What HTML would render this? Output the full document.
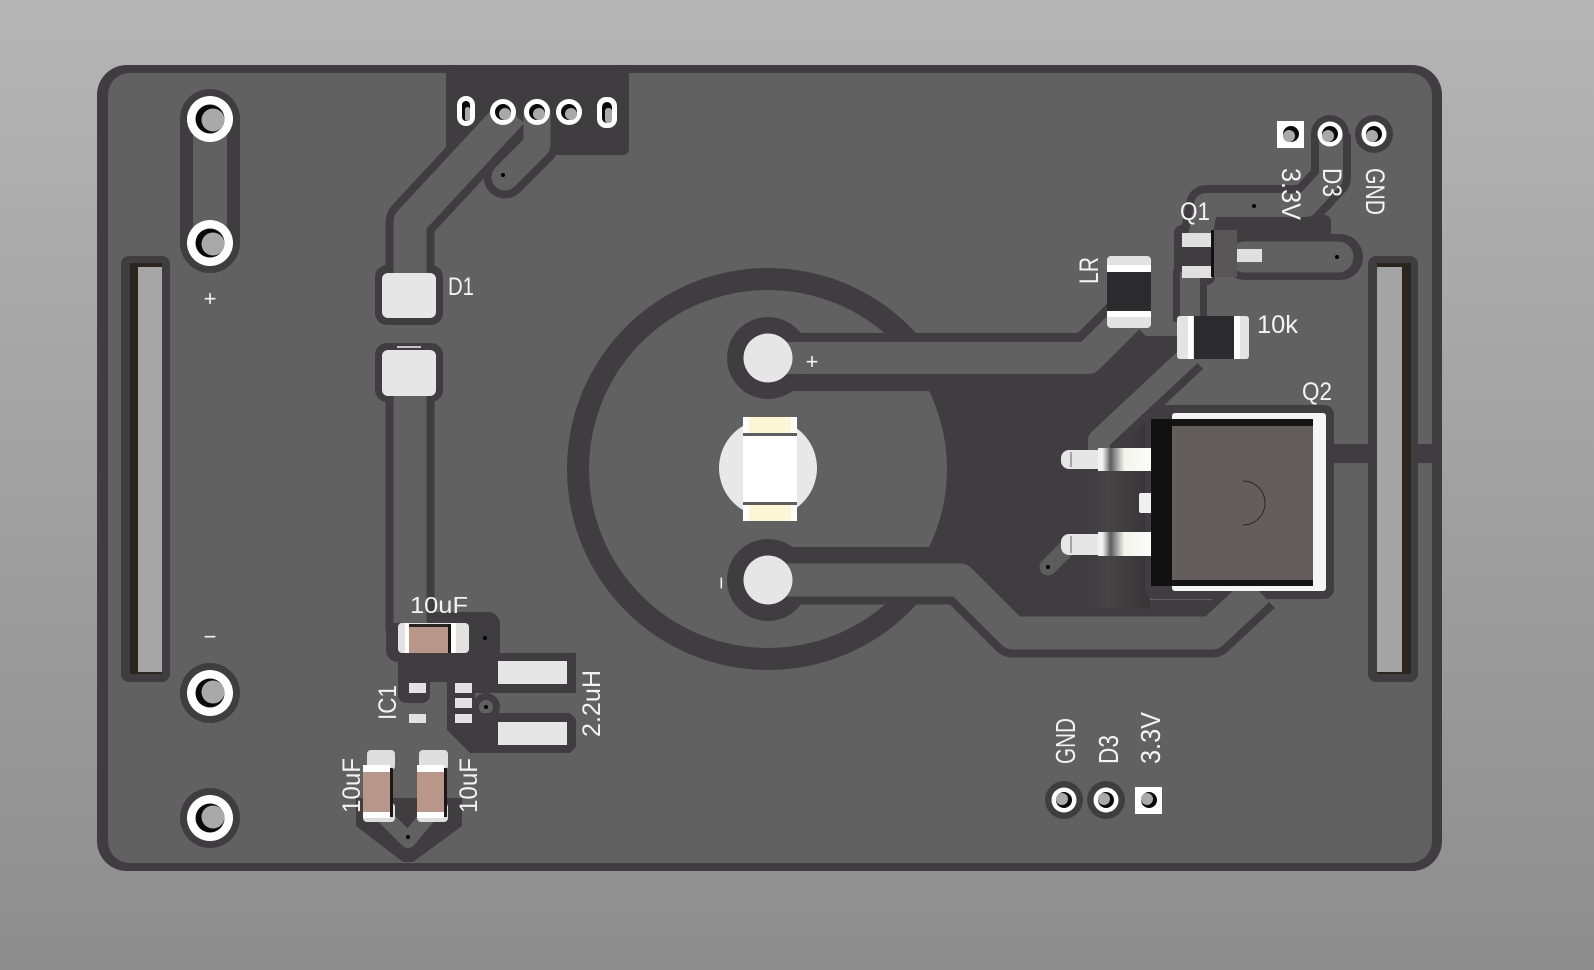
<!DOCTYPE html>
<html><head><meta charset="utf-8">
<style>
html,body{margin:0;padding:0;width:1594px;height:970px;overflow:hidden;background:#a0a0a0}
svg{display:block}
text{font-family:"Liberation Sans","DejaVu Sans",sans-serif;fill:#f3f3f3}
</style></head><body>
<svg width="1594" height="970" viewBox="0 0 1594 970" xmlns="http://www.w3.org/2000/svg">
<defs>
<linearGradient id="bg" x1="0" y1="0" x2="0" y2="1">
<stop offset="0" stop-color="#b5b5b5"/><stop offset="1" stop-color="#8d8d8d"/>
</linearGradient>
<linearGradient id="lead" x1="1061" y1="0" x2="1160" y2="0" gradientUnits="userSpaceOnUse">
<stop offset="0" stop-color="#e4e4e4"/><stop offset="0.42" stop-color="#f2f2f2"/>
<stop offset="0.5" stop-color="#5c5c5c"/><stop offset="0.64" stop-color="#f4f4ee"/>
<stop offset="1" stop-color="#ffffff"/>
</linearGradient>
<linearGradient id="shade" x1="1080" y1="0" x2="1150" y2="0" gradientUnits="userSpaceOnUse">
<stop offset="0" stop-color="#3f3d3f" stop-opacity="0"/><stop offset="0.4" stop-color="#464445"/><stop offset="1" stop-color="#363435"/>
</linearGradient>
</defs>

<rect width="1594" height="970" fill="url(#bg)"/>

<!-- board -->
<rect x="97" y="65" width="1345" height="806" rx="30" fill="#3f3d3f"/>
<rect x="108" y="73" width="1324" height="790" rx="22" fill="#616161"/>

<!-- top connector dark area -->
<rect x="446" y="65" width="183" height="90" rx="6" fill="#3f3d3f"/>

<!-- left pill between holes -->
<line x1="210" y1="119" x2="210" y2="243" stroke="#3f3d3f" stroke-width="60" stroke-linecap="round"/>
<line x1="210" y1="119" x2="210" y2="243" stroke="#616161" stroke-width="34"/>
<circle cx="210" cy="693" r="30" fill="#3f3d3f"/>
<circle cx="210" cy="818" r="30" fill="#3f3d3f"/>

<!-- trace outlines near D1 -->
<polyline points="512,112 410,222 410,280" fill="none" stroke="#3f3d3f" stroke-width="49" stroke-linejoin="round"/>
<polyline points="537,112 537,145 505,177" fill="none" stroke="#3f3d3f" stroke-width="43" stroke-linejoin="round" stroke-linecap="round"/>
<rect x="375" y="265" width="68" height="60" rx="12" fill="#3f3d3f"/>
<rect x="375" y="343" width="68" height="59" rx="12" fill="#3f3d3f"/>
<line x1="410" y1="396" x2="410" y2="630" stroke="#3f3d3f" stroke-width="49"/>

<!-- IC1 area clearances -->
<rect x="386" y="612" width="114" height="50" rx="12" fill="#3f3d3f"/>
<circle cx="485" cy="638" r="15" fill="#3f3d3f"/>
<rect x="398" y="650" width="32" height="53" rx="8" fill="#3f3d3f"/>
<polygon points="428,653 576,653 576,693 447,693 447,682 428,682" fill="#3f3d3f"/>
<rect x="473" y="653" width="103" height="40" rx="8" fill="#3f3d3f"/>
<rect x="447" y="678" width="28" height="50" rx="6" fill="#3f3d3f"/>
<circle cx="486" cy="707" r="14" fill="#3f3d3f"/>
<circle cx="486" cy="707" r="7" fill="#616161"/>
<polygon points="447,713 570,713 576,719 576,747 570,753 470,753 447,730" fill="#3f3d3f"/>
<polygon points="356,798 462,798 462,826 413,862 403,862 356,826" fill="#3f3d3f"/>
<polyline points="378,810 408,840 433,810" fill="none" stroke="#616161" stroke-width="16" stroke-linejoin="round"/>

<!-- big ring and dark region -->
<circle cx="768" cy="469" r="201" fill="#3f3d3f"/>
<polygon points="900,374 1090,374 1128,336 1180,336 1196,356 1150,408 1145,408 1145,600 1215,600 1215,617 1020,617 967,563 900,563" fill="#3f3d3f"/>
<rect x="1080" y="420" width="70" height="195" fill="url(#shade)"/>
<circle cx="768" cy="469" r="179" fill="#616161"/>
<rect x="775" y="374" width="162" height="17" fill="#3f3d3f"/>
<rect x="775" y="547" width="162" height="17" fill="#3f3d3f"/>

<!-- +/- track outlines -->
<polyline points="768,358 1088,358 1128,318" fill="none" stroke="#3f3d3f" stroke-width="50" stroke-linejoin="round"/>
<circle cx="768" cy="358" r="41" fill="#3f3d3f"/>
<polyline points="768,580 960,580 1013,633 1212,633 1258,590" fill="none" stroke="#3f3d3f" stroke-width="49" stroke-linejoin="round"/>
<circle cx="768" cy="580" r="41" fill="#3f3d3f"/>

<!-- gate track outline -->
<polyline points="1190,355 1099,440 1099,462" fill="none" stroke="#3f3d3f" stroke-width="38" stroke-linejoin="round"/>

<!-- Q1 / header clearances -->
<rect x="1174" y="225" width="41" height="60" rx="8" fill="#3f3d3f"/>
<polyline points="1331,134 1331,178 1306,205 1206,205 1200,238" fill="none" stroke="#3f3d3f" stroke-width="40" stroke-linejoin="round"/>
<rect x="1213" y="215" width="118" height="30" rx="6" fill="#3f3d3f"/>
<line x1="1245" y1="257" x2="1340" y2="257" stroke="#3f3d3f" stroke-width="46" stroke-linecap="round"/>
<line x1="1190" y1="270" x2="1190" y2="322" stroke="#3f3d3f" stroke-width="34"/>
<circle cx="1330" cy="134" r="19" fill="#3f3d3f"/>
<circle cx="1374" cy="134" r="19" fill="#3f3d3f"/>

<!-- bottom header clearances -->
<circle cx="1064" cy="800" r="19" fill="#3f3d3f"/>
<circle cx="1106" cy="800" r="19" fill="#3f3d3f"/>

<!-- right side dark band & Q2 clearance -->
<rect x="1330" y="444" width="104" height="19" fill="#3f3d3f"/>
<rect x="1145" y="405" width="189" height="194" rx="10" fill="#3f3d3f"/>

<!-- light tracks -->
<polyline points="512,112 410,222 410,300" fill="none" stroke="#616161" stroke-width="33" stroke-linejoin="round"/>
<polyline points="537,112 537,145 505,177" fill="none" stroke="#616161" stroke-width="27" stroke-linejoin="round" stroke-linecap="round"/>
<line x1="410" y1="396" x2="410" y2="623" stroke="#616161" stroke-width="33"/>
<polyline points="768,358 1088,358 1128,318" fill="none" stroke="#616161" stroke-width="32" stroke-linejoin="round"/>
<polyline points="768,580 960,580 1013,633 1212,633 1258,590" fill="none" stroke="#616161" stroke-width="33" stroke-linejoin="round"/>
<polyline points="1190,355 1099,440 1099,462" fill="none" stroke="#616161" stroke-width="22" stroke-linejoin="round"/>
<polyline points="1331,134 1331,178 1306,205 1206,205 1200,238" fill="none" stroke="#616161" stroke-width="24" stroke-linejoin="round"/>
<line x1="1245" y1="257" x2="1338" y2="257" stroke="#616161" stroke-width="31" stroke-linecap="round"/>
<line x1="1190" y1="272" x2="1190" y2="320" stroke="#616161" stroke-width="20"/>
<line x1="1048" y1="567" x2="1070" y2="545" stroke="#5d5c5d" stroke-width="17" stroke-linecap="round"/>

<!-- vias -->
<g fill="#000">
<circle cx="503" cy="175" r="2"/><circle cx="1254" cy="206" r="2"/><circle cx="1337" cy="257" r="2"/>
<circle cx="485" cy="638" r="2"/><circle cx="486" cy="707" r="2"/><circle cx="408" cy="837" r="2"/>
<circle cx="1048" cy="567" r="2"/>
</g>

<!-- big holes -->
<g>
<circle cx="210" cy="119" r="23" fill="#fff"/><circle cx="210" cy="119" r="14.5" fill="#0a0a0a"/><circle cx="213" cy="120" r="11.5" fill="#a9a9a9"/>
<circle cx="210" cy="243" r="23" fill="#fff"/><circle cx="210" cy="243" r="14.5" fill="#0a0a0a"/><circle cx="213" cy="244" r="11.5" fill="#a9a9a9"/>
<circle cx="210" cy="693" r="23" fill="#fff"/><circle cx="210" cy="693" r="14.5" fill="#0a0a0a"/><circle cx="213" cy="692" r="11.5" fill="#a9a9a9"/>
<circle cx="210" cy="818" r="23" fill="#fff"/><circle cx="210" cy="818" r="14.5" fill="#0a0a0a"/><circle cx="213" cy="817" r="11.5" fill="#a9a9a9"/>
</g>

<!-- top connector pads -->
<rect x="457" y="96" width="18" height="30" rx="9" fill="#fff"/>
<rect x="462" y="101" width="8" height="20" rx="4" fill="#0a0a0a"/>
<rect x="465" y="107" width="5" height="14" rx="2.5" fill="#a9a9a9"/>
<rect x="597" y="97" width="20" height="31" rx="9" fill="#fff"/>
<rect x="602" y="102" width="10" height="21" rx="5" fill="#0a0a0a"/>
<rect x="605" y="108" width="7" height="15" rx="3" fill="#a9a9a9"/>
<circle cx="503" cy="112" r="13" fill="#fff"/><circle cx="503" cy="112" r="8" fill="#0a0a0a"/><circle cx="505" cy="114" r="6" fill="#a9a9a9"/>
<circle cx="537" cy="112" r="13" fill="#fff"/><circle cx="537" cy="112" r="8" fill="#0a0a0a"/><circle cx="539" cy="114" r="6" fill="#a9a9a9"/>
<circle cx="569" cy="112" r="13" fill="#fff"/><circle cx="569" cy="112" r="8" fill="#0a0a0a"/><circle cx="571" cy="114" r="6" fill="#a9a9a9"/>

<!-- D1 -->
<rect x="382" y="273" width="54" height="45" rx="6" fill="#e6e6e6"/>
<rect x="382" y="350" width="54" height="46" rx="6" fill="#e6e6e6"/>
<line x1="397" y1="347" x2="421" y2="347" stroke="#f2f2f2" stroke-width="1.5"/>

<!-- LED center -->
<circle cx="768" cy="468" r="49" fill="#e8e8e8"/>
<rect x="743" y="417" width="54" height="104" fill="#fdf6d4"/>
<rect x="743" y="417" width="6" height="17" fill="#fff"/><rect x="791" y="417" width="6" height="17" fill="#fff"/>
<rect x="743" y="504" width="6" height="17" fill="#fff"/><rect x="791" y="504" width="6" height="17" fill="#fff"/>
<rect x="743" y="433" width="54" height="3" fill="#5d5d5d"/>
<rect x="743" y="436" width="54" height="66" fill="#ffffff"/>
<rect x="743" y="502" width="54" height="3" fill="#5d5d5d"/>

<!-- +/- pads -->
<circle cx="768" cy="358" r="24.5" fill="#e6e6e6"/>
<circle cx="768" cy="580" r="24.5" fill="#e6e6e6"/>

<!-- Q2 -->
<rect x="1061" y="450" width="50" height="19" rx="8" fill="#e6e6e6"/>
<rect x="1098" y="448" width="62" height="23" fill="url(#lead)"/>
<line x1="1071" y1="452" x2="1071" y2="467" stroke="#777" stroke-width="1.2"/>
<rect x="1061" y="534" width="50" height="21" rx="8" fill="#e6e6e6"/>
<rect x="1098" y="532" width="62" height="24" fill="url(#lead)"/>
<line x1="1071" y1="536" x2="1071" y2="553" stroke="#777" stroke-width="1.2"/>
<rect x="1139" y="493" width="21" height="20" rx="2" fill="#f0f0f0"/>
<rect x="1172" y="413" width="154" height="178" rx="3" fill="#f5f5f5"/>
<rect x="1151" y="419" width="21" height="167" fill="#111"/>
<rect x="1172" y="419" width="141" height="7" fill="#141414"/>
<rect x="1172" y="580" width="141" height="6" fill="#141414"/>
<rect x="1172" y="426" width="141" height="154" fill="#635e5b"/>
<path d="M1243,481 A22,22 0 0 1 1243,525" fill="none" stroke="#2a2828" stroke-width="1"/>

<!-- 10k -->
<rect x="1177" y="316" width="72" height="43" rx="3" fill="#e4e4e4"/>
<rect x="1188" y="316" width="5" height="43" fill="#ffffff"/>
<rect x="1194" y="316" width="40" height="43" fill="#2b2b2d"/>
<rect x="1234" y="316" width="6" height="43" fill="#ffffff"/>

<!-- LR -->
<rect x="1107" y="256" width="44" height="72" rx="4" fill="#e2e2e2"/>
<rect x="1107" y="265" width="44" height="7" fill="#ffffff"/>
<rect x="1107" y="272" width="44" height="39" fill="#2b2b2d"/>
<rect x="1107" y="311" width="44" height="6" fill="#ffffff"/>

<!-- Q1 -->
<rect x="1182" y="233" width="30" height="14" fill="#e0e0e0"/>
<rect x="1182" y="266" width="30" height="12" fill="#e0e0e0"/>
<rect x="1237" y="249" width="25" height="13" fill="#e0e0e0"/>
<rect x="1211" y="230" width="26" height="47" fill="#5a5556"/>
<rect x="1211" y="230" width="3" height="47" fill="#111"/>

<!-- top header pads -->
<rect x="1277" y="121" width="27" height="27" fill="#fff"/>
<circle cx="1291" cy="134" r="8" fill="#0a0a0a"/><circle cx="1289" cy="136" r="6" fill="#a9a9a9"/>
<circle cx="1330" cy="134" r="12.5" fill="#fff"/><circle cx="1330" cy="134" r="8" fill="#0a0a0a"/><circle cx="1328" cy="136" r="6" fill="#a9a9a9"/>
<circle cx="1374" cy="134" r="12.5" fill="#fff"/><circle cx="1374" cy="134" r="8" fill="#0a0a0a"/><circle cx="1372" cy="136" r="6" fill="#a9a9a9"/>

<!-- bottom header pads -->
<circle cx="1064" cy="800" r="12.5" fill="#fff"/><circle cx="1064" cy="800" r="8" fill="#0a0a0a"/><circle cx="1062" cy="799" r="6" fill="#a9a9a9"/>
<circle cx="1106" cy="800" r="12.5" fill="#fff"/><circle cx="1106" cy="800" r="8" fill="#0a0a0a"/><circle cx="1104" cy="799" r="6" fill="#a9a9a9"/>
<rect x="1135" y="787" width="27" height="27" fill="#fff"/>
<circle cx="1149" cy="800" r="8" fill="#0a0a0a"/><circle cx="1147" cy="799" r="6" fill="#a9a9a9"/>

<!-- top 10uF cap -->
<rect x="398" y="623" width="71" height="30" rx="4" fill="#e2e2e2"/>
<rect x="405" y="623" width="4" height="30" fill="#ffffff"/>
<rect x="409" y="624" width="39" height="29" fill="#b8978a"/>
<rect x="409" y="624" width="39" height="3" fill="#2a2220"/>
<rect x="448" y="624" width="3" height="29" fill="#1c1816"/>
<rect x="451" y="623" width="5" height="30" fill="#ffffff"/>

<!-- IC1 pads -->
<g fill="#e2e2e2">
<rect x="409" y="683" width="17" height="10"/><rect x="409" y="714" width="17" height="9"/>
<rect x="455" y="683" width="17" height="10"/><rect x="455" y="698" width="17" height="10"/><rect x="455" y="714" width="17" height="9"/>
</g>
<!-- inductor pads -->
<rect x="498" y="661" width="69" height="23" fill="#e6e6e6"/>
<rect x="498" y="722" width="69" height="23" fill="#e6e6e6"/>

<!-- bottom caps -->
<rect x="367" y="750" width="28" height="20" rx="4" fill="#dedede"/>
<rect x="363" y="803" width="32" height="19" rx="4" fill="#dedede"/>
<rect x="363" y="765" width="27" height="7" fill="#ffffff"/>
<rect x="363" y="772" width="27" height="40" fill="#b8978a"/>
<rect x="363" y="812" width="27" height="6" fill="#ffffff"/>
<rect x="390" y="768" width="3" height="49" fill="#1c1816"/>
<rect x="419" y="750" width="29" height="20" rx="4" fill="#dedede"/>
<rect x="417" y="803" width="31" height="19" rx="4" fill="#dedede"/>
<rect x="417" y="765" width="27" height="7" fill="#ffffff"/>
<rect x="417" y="772" width="27" height="40" fill="#b8978a"/>
<rect x="417" y="812" width="27" height="6" fill="#ffffff"/>
<rect x="444" y="768" width="3" height="49" fill="#1c1816"/>

<!-- slots -->
<rect x="121" y="256" width="49" height="426" rx="8" fill="#3f3d3f"/>
<rect x="130" y="263" width="32" height="411" fill="#2b261d"/>
<rect x="138" y="267" width="24" height="405" fill="#a6a6a6"/>
<rect x="1368" y="256" width="50" height="426" rx="8" fill="#3f3d3f"/>
<rect x="1377" y="263" width="34" height="411" fill="#2b261d"/>
<rect x="1377" y="267" width="25" height="405" fill="#a4a4a4"/>

<!-- labels -->
<text x="210" y="306" font-size="22" text-anchor="middle">+</text>
<text x="210" y="644" font-size="22" text-anchor="middle">−</text>
<text x="812" y="369" font-size="22" text-anchor="middle">+</text>
<text transform="translate(721,583) rotate(90)" font-size="22" text-anchor="middle" dy="7">−</text>
<text x="448" y="295" font-size="25" textLength="26" lengthAdjust="spacingAndGlyphs">D1</text>
<text x="410" y="613" font-size="23" textLength="58" lengthAdjust="spacingAndGlyphs">10uF</text>
<text x="1257" y="333" font-size="25" textLength="41" lengthAdjust="spacingAndGlyphs">10k</text>
<text x="1302" y="400" font-size="25" textLength="30" lengthAdjust="spacingAndGlyphs">Q2</text>
<text x="1180" y="220" font-size="25" textLength="30" lengthAdjust="spacingAndGlyphs">Q1</text>
<text transform="translate(1098,270.5) rotate(-90)" font-size="27" text-anchor="middle" textLength="27" lengthAdjust="spacingAndGlyphs">LR</text>
<text transform="translate(396,702.5) rotate(-90)" font-size="25" text-anchor="middle" textLength="35" lengthAdjust="spacingAndGlyphs">IC1</text>
<text transform="translate(600,703.5) rotate(-90)" font-size="25" text-anchor="middle" textLength="67" lengthAdjust="spacingAndGlyphs">2.2uH</text>
<text transform="translate(360,785.5) rotate(-90)" font-size="25" text-anchor="middle" textLength="55" lengthAdjust="spacingAndGlyphs">10uF</text>
<text transform="translate(477,785.5) rotate(-90)" font-size="25" text-anchor="middle" textLength="55" lengthAdjust="spacingAndGlyphs">10uF</text>
<text transform="translate(1282,194) rotate(90)" font-size="27" text-anchor="middle" textLength="52" lengthAdjust="spacingAndGlyphs">3.3V</text>
<text transform="translate(1323,182.5) rotate(90)" font-size="27" text-anchor="middle" textLength="29" lengthAdjust="spacingAndGlyphs">D3</text>
<text transform="translate(1366,191.5) rotate(90)" font-size="27" text-anchor="middle" textLength="47" lengthAdjust="spacingAndGlyphs">GND</text>
<text transform="translate(1075,741) rotate(-90)" font-size="28" text-anchor="middle" textLength="46" lengthAdjust="spacingAndGlyphs">GND</text>
<text transform="translate(1118,749.5) rotate(-90)" font-size="28" text-anchor="middle" textLength="29" lengthAdjust="spacingAndGlyphs">D3</text>
<text transform="translate(1160,738) rotate(-90)" font-size="28" text-anchor="middle" textLength="52" lengthAdjust="spacingAndGlyphs">3.3V</text>
</svg>
</body></html>
